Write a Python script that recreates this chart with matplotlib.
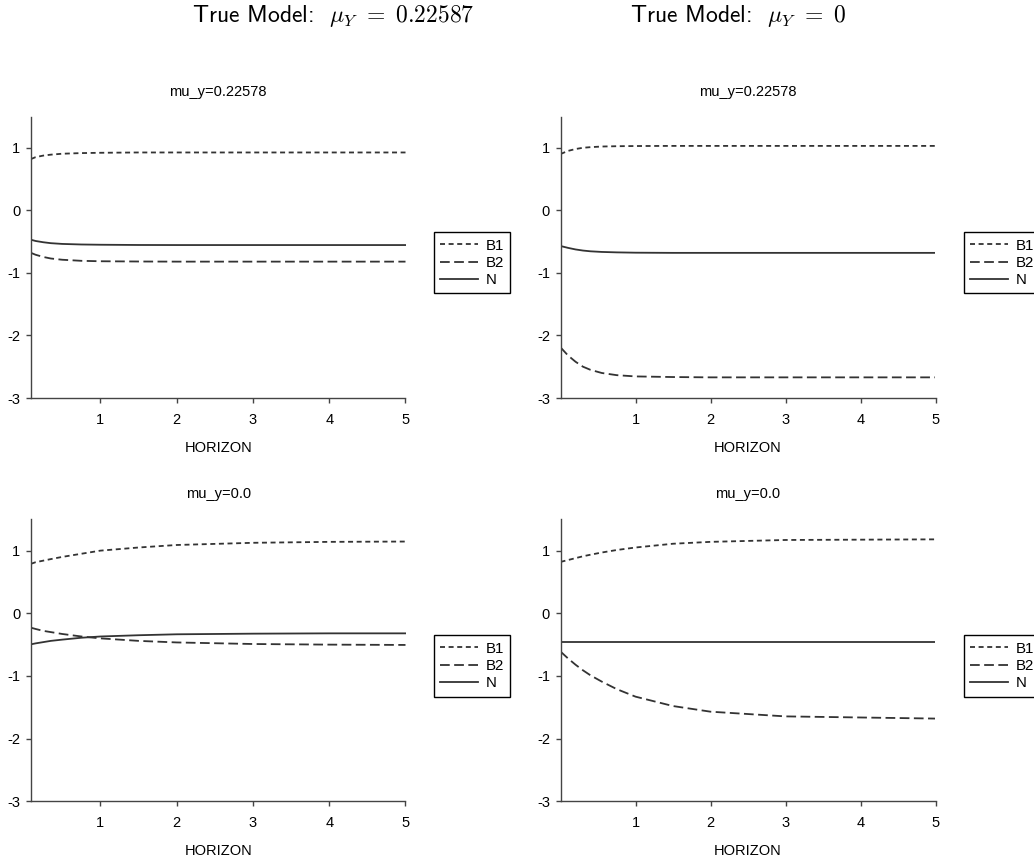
import matplotlib
matplotlib.use('Agg')
import matplotlib.pyplot as plt

plt.rcParams['font.family'] = ['Liberation Sans', 'DejaVu Sans']
plt.rcParams['mathtext.fontset'] = 'cm'
plt.rcParams['axes.unicode_minus'] = False
plt.rcParams['lines.scale_dashes'] = False

# horizon grids (left column starts a bit later than the right one)
horizon_left = [0.09, 0.15, 0.25, 0.35, 0.5, 0.75, 1, 1.5, 2, 3, 4, 5]
horizon_right = [0.0, 0.1, 0.2, 0.3, 0.4, 0.55, 0.75, 1, 1.5, 2, 3, 5]

# top-left: true model mu_Y = 0.22587, estimated mu_y=0.22578
tl_b1 = [0.82, 0.85, 0.875, 0.89, 0.905, 0.915, 0.92, 0.925, 0.925, 0.925, 0.925, 0.925]
tl_b2 = [-0.68, -0.71, -0.745, -0.77, -0.79, -0.807, -0.814, -0.818, -0.82, -0.82, -0.82, -0.82]
tl_n = [-0.47, -0.49, -0.51, -0.525, -0.537, -0.546, -0.55, -0.554, -0.555, -0.555, -0.555, -0.555]

# top-right: true model mu_Y = 0, estimated mu_y=0.22578
tr_b1 = [0.90, 0.95, 0.98, 1.0, 1.01, 1.02, 1.025, 1.028, 1.03, 1.03, 1.03, 1.03]
tr_b2 = [-2.19, -2.32, -2.42, -2.50, -2.55, -2.60, -2.635, -2.655, -2.665, -2.67, -2.67, -2.67]
tr_n = [-0.57, -0.60, -0.625, -0.643, -0.655, -0.665, -0.672, -0.677, -0.68, -0.68, -0.68, -0.68]

# bottom-left: true model mu_Y = 0.22587, estimated mu_y=0.0
bl_b1 = [0.79, 0.815, 0.84, 0.865, 0.90, 0.95, 1.0, 1.05, 1.09, 1.125, 1.14, 1.145]
bl_b2 = [-0.23, -0.25, -0.28, -0.30, -0.33, -0.37, -0.40, -0.44, -0.465, -0.49, -0.50, -0.505]
bl_n = [-0.495, -0.48, -0.46, -0.44, -0.42, -0.39, -0.37, -0.35, -0.335, -0.325, -0.32, -0.32]

# bottom-right: true model mu_Y = 0, estimated mu_y=0.0
br_b1 = [0.82, 0.85, 0.88, 0.91, 0.935, 0.97, 1.01, 1.05, 1.11, 1.14, 1.17, 1.18]
br_b2 = [-0.61, -0.72, -0.82, -0.91, -0.99, -1.09, -1.21, -1.33, -1.48, -1.57, -1.645, -1.68]
br_n = [-0.455] * 12

fig = plt.figure(figsize=(10.34, 8.59), dpi=100)

W, H = 1034.0, 859.0
panels = [
    ((31, 398, 374.5, 281.5), 'mu_y=0.22578', horizon_left, tl_b1, tl_b2, tl_n),
    ((560.5, 398, 375, 281.5), 'mu_y=0.22578', horizon_right, tr_b1, tr_b2, tr_n),
    ((31, 801.3, 374.5, 282), 'mu_y=0.0', horizon_left, bl_b1, bl_b2, bl_n),
    ((560.5, 801.3, 375, 282), 'mu_y=0.0', horizon_right, br_b1, br_b2, br_n),
]

line_col = '#333333'
spine_col = '#444444'

for (x0, ybot, w, h), title, hz, b1, b2, n in panels:
    ax = fig.add_axes([x0 / W, (H - ybot) / H, w / W, h / H])
    ax.plot(hz, b1, color=line_col, lw=1.3, dashes=(3.6, 2.6), label='B1')
    ax.plot(hz, b2, color=line_col, lw=1.3, dashes=(7, 3.2), label='B2')
    ax.plot(hz, n, color=line_col, lw=1.3, label='N')

    ax.set_xlim(hz[0], 5)
    ax.set_ylim(-3, 1.5)
    ax.set_xticks([1, 2, 3, 4, 5])
    ax.set_yticks([-3, -2, -1, 0, 1])

    for side in ['top', 'right']:
        ax.spines[side].set_visible(False)
    for side in ['left', 'bottom']:
        ax.spines[side].set_color(spine_col)
        ax.spines[side].set_linewidth(1.0)

    ax.tick_params(direction='out', length=3.6, width=1.0, color=spine_col,
                   labelsize=10.5, labelcolor='black')
    ax.tick_params(axis='x', pad=7)
    ax.tick_params(axis='y', pad=4)

    ax.set_title(title, fontsize=10.5, pad=15)
    ax.set_xlabel('HORIZON', fontsize=10.5, labelpad=10)

    leg = ax.legend(loc='center left', bbox_to_anchor=(1.076, 0.48),
                    fancybox=False, edgecolor='black', borderaxespad=0,
                    handlelength=2.5, handletextpad=0.5, labelspacing=0.22,
                    borderpad=0.42, fontsize=10.8, framealpha=1)
    leg.get_frame().set_linewidth(1.0)

fig.text(333 / W, 1 - 16 / H, r'True Model:  $\mu_Y\ =\ 0.22587$', ha='center', va='center',
         fontsize=17, family='cmss10')
fig.text(738 / W, 1 - 16 / H, r'True Model:  $\mu_Y\ =\ 0$', ha='center', va='center',
         fontsize=17, family='cmss10')

fig.savefig('out.png', dpi=100)
